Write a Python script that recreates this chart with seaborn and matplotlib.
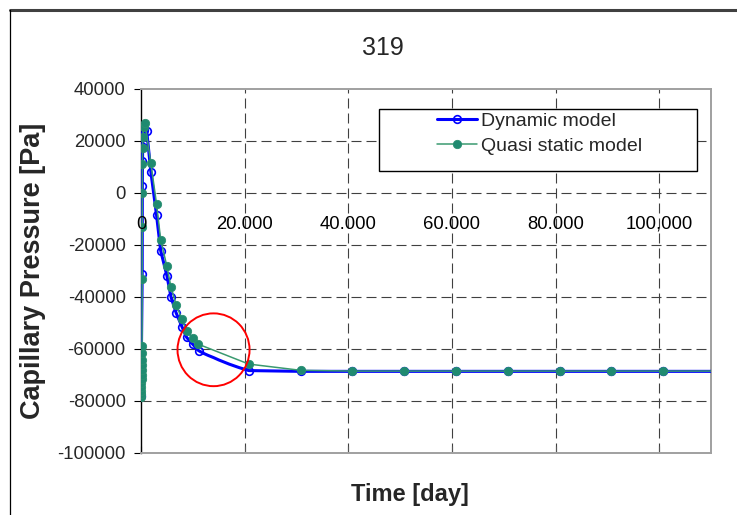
import matplotlib
matplotlib.use("Agg")
import matplotlib.pyplot as plt
import numpy as np
import pandas as pd
import seaborn as sns
from matplotlib.patches import Ellipse, Rectangle
from matplotlib.lines import Line2D

# ---------------- data ----------------
title = "319"
x_label = "Time [day]"
y_label = "Capillary Pressure [Pa]"
series_names = ["Dynamic model", "Quasi static model"]

dyn_t = [0, 235, 260, 290, 320, 400, 600, 1100, 1900, 3000, 3800, 5000, 5800,
         6800, 7900, 8800, 10000, 11100,
         12000, 13000, 14000, 15000, 16000, 17000, 18000, 19000, 20000,
         20800, 30800, 40800, 50800, 60800, 70800, 80800, 90800, 100800, 112000]
dyn_p = [-78000, -31000, 2700, 12300, 17700, 21700, 24200, 24000, 8200, -8500, -22200, -31800, -40100,
         -46200, -51400, -55500, -58200, -60600,
         -61600, -62500, -63300, -64200, -65000, -65800, -66500, -67200, -67800,
         -68300, -68600, -68600, -68600, -68600, -68600, -68600, -68600, -68600, -68600]

qs_t = [0, 20, 40, 60, 80, 100, 120, 140, 160, 180, 200, 220,
        230, 240, 260, 280, 300, 340, 500, 780,
        1900, 3000, 3800, 5000, 5800, 6800, 7900, 8800, 10000, 11000,
        20800, 30800, 40800, 50800, 60800, 70800, 80800, 90800, 100800, 112000]
qs_p = [-78500, -77500, -76200, -74800, -73200, -71600, -70000, -68200, -66300, -64300, -61700, -59000,
        -33200, -13000, 0, 11200, 17400, 21700, 25500, 26800,
        11500, -4200, -18000, -28200, -36300, -43000, -48600, -53000, -55900, -58100,
        -65800, -68200, -68500, -68500, -68500, -68500, -68500, -68500, -68500, -68500]

x_ticks = [0, 20000, 40000, 60000, 80000, 100000]
x_tick_labels = ["0", "20.000", "40.000", "60.000", "80.000", "100,000"]
y_ticks = [40000, 20000, 0, -20000, -40000, -60000, -80000, -100000]
y_tick_labels = ["40000", "20000", "0", "-20000", "-40000", "-60000", "-80000", "-100000"]

# ---------------- style ----------------
sns.set_style("white")
plt.rcParams["font.family"] = ["Liberation Sans", "DejaVu Sans"]

fig = plt.figure(figsize=(7.37, 5.15), dpi=100)
fig.patch.set_facecolor("white")
ax = fig.add_axes([0.1913, 0.1204, 0.7734, 0.7068])

dyn_df = pd.DataFrame({"Time": dyn_t, "Pressure": dyn_p})
qs_df = pd.DataFrame({"Time": qs_t, "Pressure": qs_p})

dyn_marks = [i for i, t in enumerate(dyn_t) if not (11100 < t < 20800)]

sns.lineplot(data=dyn_df, x="Time", y="Pressure", ax=ax, sort=False, estimator=None,
             color="#0000ff", linewidth=2.2, marker="o", markersize=5.5,
             markerfacecolor="none", markeredgecolor="#0000ff", markeredgewidth=1.2,
             markevery=dyn_marks, label=series_names[0], zorder=3)
sns.lineplot(data=qs_df, x="Time", y="Pressure", ax=ax, sort=False, estimator=None,
             color="#3a9a70", linewidth=1.1, marker="o", markersize=6,
             markerfacecolor="#1f8a70", markeredgecolor="#2a9070", markeredgewidth=0.6,
             label=series_names[1], zorder=3.5)

ax.set_xlim(0, 110000)
ax.set_ylim(-100000, 40000)

ax.set_yticks(y_ticks)
ax.set_yticklabels(y_tick_labels)
ax.set_xticks(x_ticks)
ax.set_xticklabels([])

ax.tick_params(axis="y", direction="out", length=5, width=0.8, color="black",
               labelsize=13.3, pad=6, left=True)
ax.tick_params(axis="x", direction="in", length=5, width=0.8, color="#555555",
               bottom=True)

ax.set_axisbelow(True)
ax.grid(True, which="major", linestyle=(0, (9, 4.5)), color="#404040", linewidth=0.8)
ygl = ax.get_ygridlines()
ygl[0].set_visible(False)
ygl[-1].set_visible(False)
ax.get_xgridlines()[0].set_visible(False)

for side in ["top", "right", "bottom"]:
    ax.spines[side].set_color("#a0a0a0")
    ax.spines[side].set_linewidth(1.4)
ax.spines["left"].set_color("black")
ax.spines["left"].set_linewidth(1.0)

# x tick labels drawn next to the y=0 line
for xv, lab in zip(x_ticks, x_tick_labels):
    ax.text(xv, -12100, lab, ha="center", va="center", fontsize=13.3, color="black", zorder=10)

# axis labels
ax.set_xlabel(x_label, fontsize=17, fontweight="bold")
ax.xaxis.set_label_coords(0.472, -0.1154)
ax.xaxis.label.set_va("center")
ax.set_ylabel(y_label, fontsize=19.5, fontweight="bold")
ax.yaxis.set_label_coords(-0.1895, 0.5)
ax.yaxis.label.set_va("center")

# title
fig.text(383 / 737, 1 - 48 / 515, title, ha="center", va="center", fontsize=18)

# red highlight circle
ax.add_patch(Ellipse((14000, -60300), 13900, 28000, facecolor="none", edgecolor="#ff0000",
                     linewidth=1.4, zorder=6, clip_on=False))

# legend box + legend
ax.add_patch(Rectangle((0.4175, 0.775), 0.5575, 0.17, transform=ax.transAxes,
                       facecolor="white", edgecolor="black", linewidth=1.0, zorder=4))
leg = ax.legend(loc="upper left", bbox_to_anchor=(0.519, 0.937), frameon=False,
                fontsize=14, borderpad=0, borderaxespad=0, handlelength=2.06,
                handletextpad=0.2, labelspacing=0.38)
leg.set_zorder(5)

# outer frame of the figure
fig.add_artist(Line2D([9.5 / 737, 1], [1 - 10 / 515, 1 - 10 / 515], transform=fig.transFigure,
                      color="#404040", linewidth=2.2))
fig.add_artist(Line2D([9.5 / 737, 9.5 / 737], [0, 1 - 10 / 515], transform=fig.transFigure,
                      color="black", linewidth=0.9))

fig.savefig("out.png", dpi=100, facecolor="white")
